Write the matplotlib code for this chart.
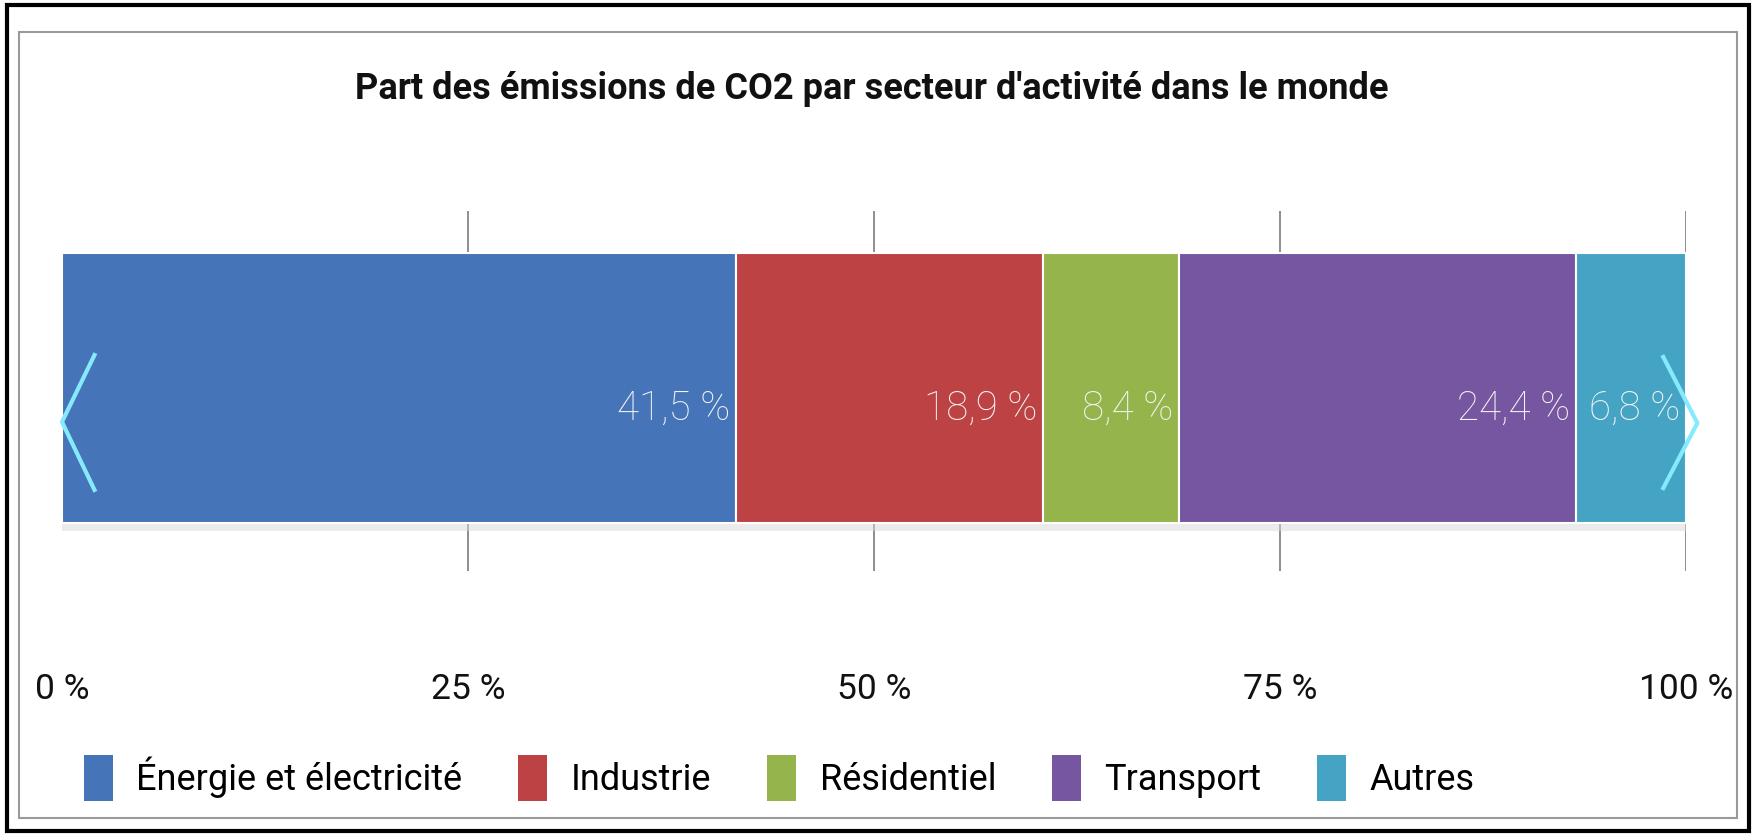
import matplotlib
matplotlib.use('Agg')
import matplotlib.pyplot as plt
from matplotlib.patches import Rectangle, Patch
import numpy as np

plt.rcParams['font.family'] = ['Roboto', 'DejaVu Sans']

# données
secteurs = ['Énergie et électricité', 'Industrie', 'Résidentiel', 'Transport', 'Autres']
parts = [41.5, 18.9, 8.4, 24.4, 6.8]
etiquettes = ['41,5 %', '18,9 %', '8,4 %', '24,4 %', '6,8 %']
couleurs = ['#4674b8', '#bd4244', '#95b54c', '#7656a0', '#45a4c4']
ticks = [0, 25, 50, 75, 100]
tick_labels = ['0 %', '25 %', '50 %', '75 %', '100 %']
titre = "Part des émissions de CO2 par secteur d'activité dans le monde"

W, H = 1756, 836
fig = plt.figure(figsize=(W / 100, H / 100), dpi=100)

# cadres
fig.patches.append(Rectangle((7 / W, 1 - 831 / H), 1742 / W, 826 / H, transform=fig.transFigure,
                             fill=False, edgecolor='black', linewidth=3))
fig.patches.append(Rectangle((19 / W, 1 - 818 / H), 1718 / W, 786 / H, transform=fig.transFigure,
                             fill=False, edgecolor='#9a9a9a', linewidth=1.5))

ax = fig.add_axes([62 / W, 1 - 580 / H, 1624 / W, 380 / H])
ax.set_xlim(0, 100)
ax.set_ylim(0, 1)

y_bar = 0.5053
h_bar = 0.7105
gauche = np.concatenate([[0], np.cumsum(parts)[:-1]])

# ombre sous la barre
ax.barh(y_bar - 0.02, sum(parts), left=0, height=h_bar, color='#d8d8d8', alpha=0.5, zorder=1)
ax.barh(y_bar, parts, left=gauche, height=h_bar, color=couleurs, edgecolor='white',
        linewidth=1.5, zorder=2)

for g, p, lab in zip(gauche, parts, etiquettes):
    ax.text(g + p - 0.35, 0.421, lab, ha='right', va='baseline', color='#f4f4f4',
            fontsize=29, fontweight='light', zorder=3)

# petits traits de graduation
ax.vlines(ticks[1:], y_bar + h_bar / 2, 0.971, color='#707070', linewidth=1.1, zorder=0)
ax.vlines(ticks[1:], 0.024, y_bar - h_bar / 2, color='#707070', linewidth=1.1, zorder=0)

ax.set_xticks(ticks, tick_labels)
ax.set_yticks([])
ax.tick_params(axis='x', length=0, pad=86, labelsize=25.5, labelcolor='#111111')
for lab in ax.get_xticklabels():
    lab.set_verticalalignment('baseline')
for s in ax.spines.values():
    s.set_visible(False)

# flèches de navigation
ax.plot([0.020, 0.0, 0.020], [0.592, 0.416, 0.237], transform=ax.transAxes,
        color='#86eaff', linewidth=3, clip_on=False, zorder=4)
ax.plot([0.986, 1.007, 0.986], [0.587, 0.413, 0.242], transform=ax.transAxes,
        color='#86eaff', linewidth=3, clip_on=False, zorder=4)

fig.text(872 / W, 1 - 99 / H, titre, ha='center', va='baseline', fontsize=26,
         fontweight='bold', color='#111111')

handles = [Patch(facecolor=c) for c in couleurs]
fig.legend(handles, secteurs, loc='center left', bbox_to_anchor=(84 / W, 1 - 778 / H),
           ncol=5, frameon=False, fontsize=26, handlelength=0.8, handleheight=1.6,
           handletextpad=0.65, columnspacing=1.55, borderpad=0, borderaxespad=0)

fig.savefig('out.png', dpi=100, facecolor='white')
